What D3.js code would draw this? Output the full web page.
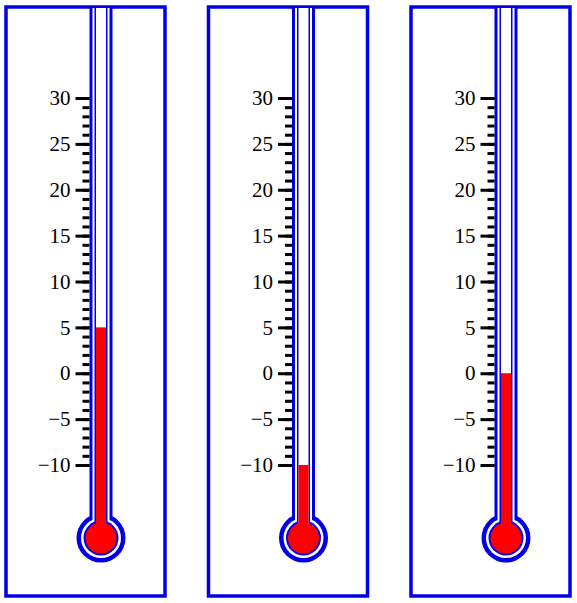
<!DOCTYPE html>
<html>
<head>
<meta charset="utf-8">
<script src="https://cdn.jsdelivr.net/npm/d3@7"></script>
<style>
  body { margin: 0; background: #fff; }
  svg { display: block; }
</style>
</head>
<body>
<svg id="chart" width="577" height="603"></svg>
<script>
// three thermometer readings
var readings = [5, -10, 0];
var majorTicks = [-10, -5, 0, 5, 10, 15, 20, 25, 30];
var minorTicks = d3.range(-10, 31, 1);

var blue = "#0000e6", red = "#ff0000";
var svg = d3.select("#chart");

// vertical scale shared by every panel
var y = d3.scaleLinear().domain([-10, 30]).range([465, 98]);
// panel left edges
var px = d3.scaleLinear().domain([0, 2]).range([6, 411]);

// geometry relative to panel left edge
var panelW = 159, topY = 7, bottomY = 596;
var cx = 95;          // tube / bulb centre
var bulbY = 538;

readings.forEach(function(v, i) {
  var g = svg.append("g").attr("transform", "translate(" + px(i) + ",0)");

  // frame
  g.append("rect")
    .attr("x", 0).attr("y", topY)
    .attr("width", panelW).attr("height", bottomY - topY)
    .attr("fill", "none").attr("stroke", blue).attr("stroke-width", 3.5);

  // outer glass (blue shape then white inside)
  g.append("rect").attr("x", cx - 11.5).attr("y", topY).attr("width", 23).attr("height", bulbY - topY)
    .attr("fill", blue);
  g.append("circle").attr("cx", cx).attr("cy", bulbY).attr("r", 24.5).attr("fill", blue);
  g.append("rect").attr("x", cx - 8.5).attr("y", topY + 1).attr("width", 17).attr("height", bulbY - topY)
    .attr("fill", "#fff");
  g.append("circle").attr("cx", cx).attr("cy", bulbY).attr("r", 20).attr("fill", "#fff");

  // inner capillary
  g.append("rect").attr("x", cx - 6.5).attr("y", topY).attr("width", 13).attr("height", bulbY - topY)
    .attr("fill", blue);
  g.append("circle").attr("cx", cx).attr("cy", bulbY).attr("r", 17.5).attr("fill", blue);
  g.append("rect").attr("x", cx - 5).attr("y", topY + 1).attr("width", 10).attr("height", bulbY - topY)
    .attr("fill", "#fff");

  // mercury
  g.append("rect")
    .attr("x", cx - 5).attr("y", y(v))
    .attr("width", 10).attr("height", bulbY - y(v))
    .attr("fill", red);
  g.append("circle").attr("cx", cx).attr("cy", bulbY).attr("r", 15.5).attr("fill", red);

  // scale ticks
  var axisX = cx - 11.5;
  var minor = g.append("g").attr("transform", "translate(" + axisX + ",0)")
    .call(d3.axisLeft(y).tickValues(minorTicks).tickSize(7).tickFormat(""));
  var major = g.append("g").attr("transform", "translate(" + axisX + ",0)")
    .call(d3.axisLeft(y).tickValues(majorTicks).tickSize(14).tickPadding(5)
      .tickFormat(function(d) { return d < 0 ? "\u2212" + Math.abs(d) : d; }));
  [minor, major].forEach(function(a) {
    a.select(".domain").remove();
    a.selectAll(".tick line").attr("stroke", "#000").attr("stroke-width", 3);
  });
  major.selectAll(".tick text")
    .attr("fill", "#000")
    .style("font-family", "'Liberation Serif', serif")
    .style("font-size", "21px");
});
</script>
</body>
</html>
